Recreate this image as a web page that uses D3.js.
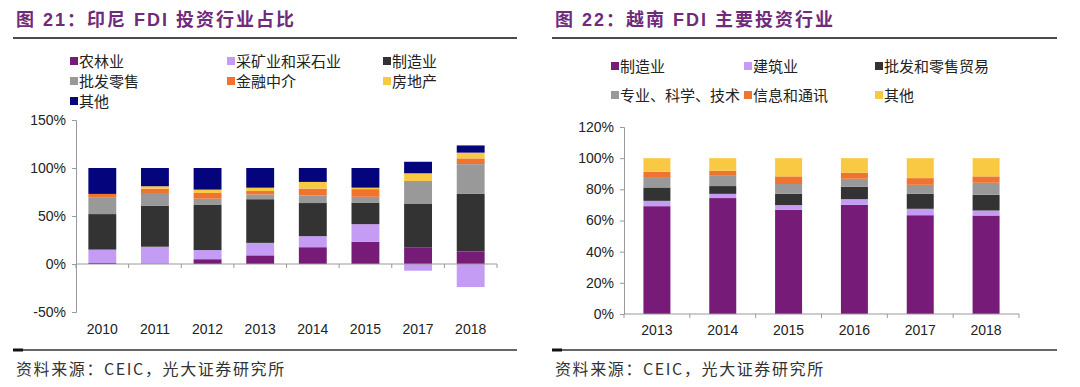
<!doctype html>
<html>
  <head>
    <meta charset="utf-8">
    <title>FDI 投资行业</title>
    <script src="https://cdnjs.cloudflare.com/ajax/libs/d3/7.8.5/d3.min.js"></script>
    <style>
      body { margin: 0; background: #fff; }
      .tick text { font-family: "Liberation Sans", Arial, sans-serif; font-size: 14px; fill: #222; }
      .legend text { font-family: "Noto Sans CJK SC", sans-serif; font-size: 15px; fill: #222; }
    </style>
  </head>
  <body>
    <div id="chart"></div>
    <script>
      // ---- data: 印尼 (left) ----
      const idYears = ['2010', '2011', '2012', '2013', '2014', '2015', '2017', '2018'];
      const idKeys = ['农林业', '采矿业和采石业', '制造业', '批发零售', '金融中介', '房地产', '其他'];
      const idAgri      = [1, 0, 5, 9, 17.5, 23, 17, 13];
      const idMining    = [14, 18, 9.5, 13, 11.5, 18.5, -7, -24];
      const idManuf     = [37, 42.5, 47, 45.5, 34.5, 22.5, 46, 60];
      const idWholesale = [17, 12.5, 6.5, 5, 8, 6, 22.5, 31];
      const idFinance   = [4, 5.5, 6, 3.5, 7, 8, 1, 6];
      const idRealty    = [0, 2.5, 3.5, 3.5, 7, 1.5, 8, 6];
      const idOther     = [27, 19, 22.5, 20.5, 14.5, 20.5, 12, 7.5];
      const idTicks = [-50, 0, 50, 100, 150];

      // ---- data: 越南 (right) ----
      const vnYears = ['2013', '2014', '2015', '2016', '2017', '2018'];
      const vnKeys = ['制造业', '建筑业', '批发和零售贸易', '专业、科学、技术', '信息和通讯', '其他'];
      const vnManuf     = [69.2, 74.4, 66.9, 70.1, 63.4, 63.2];
      const vnBuild     = [3.4, 2.7, 3.0, 3.6, 4.1, 3.2];
      const vnWholesale = [8.6, 5.0, 7.2, 7.9, 9.6, 10.1];
      const vnProf      = [6.7, 7.0, 6.3, 5.2, 5.8, 7.7];
      const vnInfo      = [3.4, 2.8, 4.9, 3.8, 4.3, 4.1];
      const vnOther     = [8.7, 8.1, 11.7, 9.4, 12.8, 11.7];
      const vnTicks = [0, 20, 40, 60, 80, 100, 120];

      const idColors = ['#761c78', '#c59cf3', '#333333', '#999999', '#ef7430', '#fac943', '#04047c'];
      const vnColors = ['#761c78', '#c59cf3', '#333333', '#999999', '#ef7430', '#fac943'];

      const svg = d3.select('#chart').append('svg')
        .attr('width', 1080).attr('height', 387);

      const idRows = idYears.map((y, i) => ({
        year: y, '农林业': idAgri[i], '采矿业和采石业': idMining[i], '制造业': idManuf[i],
        '批发零售': idWholesale[i], '金融中介': idFinance[i], '房地产': idRealty[i], '其他': idOther[i]
      }));
      const vnRows = vnYears.map((y, i) => ({
        year: y, '制造业': vnManuf[i], '建筑业': vnBuild[i], '批发和零售贸易': vnWholesale[i],
        '专业、科学、技术': vnProf[i], '信息和通讯': vnInfo[i], '其他': vnOther[i]
      }));

      function panel(opt) {
        const g = svg.append('g');

        // title + rules
        g.append('text')
          .attr('x', opt.left + 3).attr('y', 26)
          .style('font-family', '"Liberation Sans", "Noto Sans CJK SC", sans-serif')
          .style('font-weight', 'bold').style('font-size', '18px')
          .style('letter-spacing', '2px')
          .style('fill', '#702a7c')
          .text(opt.title);
        g.append('line').attr('x1', opt.left).attr('x2', opt.right)
          .attr('y1', 38).attr('y2', 38).attr('stroke', '#111').attr('stroke-width', 1.5);
        g.append('line').attr('x1', opt.left).attr('x2', opt.right)
          .attr('y1', 350).attr('y2', 350).attr('stroke', '#333').attr('stroke-width', 1.5);
        g.append('line').attr('x1', opt.left).attr('x2', opt.left + 10)
          .attr('y1', 350).attr('y2', 350).attr('stroke', '#111').attr('stroke-width', 3);
        g.append('text')
          .attr('x', opt.left + 3).attr('y', 375)
          .style('font-family', '"Noto Sans CJK SC", sans-serif')
          .style('font-size', '16px').style('letter-spacing', '1.6px').style('fill', '#333')
          .text('资料来源：CEIC，光大证券研究所');

        // legend
        const lg = g.append('g').attr('class', 'legend');
        opt.keys.forEach((k, i) => {
          const lx = opt.legX[i % 3], ly = opt.legY[Math.floor(i / 3)];
          lg.append('rect').attr('x', lx).attr('y', ly - 4).attr('width', 8).attr('height', 8)
            .attr('fill', opt.colors[i]);
          lg.append('text').attr('x', lx + 9).attr('y', ly + 5.5).text(k);
        });

        // scales
        const x = d3.scaleBand().domain(opt.years).range([opt.x0, opt.x1]).paddingInner(opt.pad).paddingOuter(opt.pad / 2);
        const y = d3.scaleLinear().domain(d3.extent(opt.ticks)).range([opt.yBottom, opt.yTop]);

        const series = d3.stack().keys(opt.keys).offset(d3.stackOffsetDiverging)(opt.rows);

        g.selectAll('g.series').data(series).join('g')
          .attr('fill', (d, i) => opt.colors[i])
          .selectAll('rect').data(d => d).join('rect')
          .attr('x', d => x(d.data.year))
          .attr('width', x.bandwidth())
          .attr('y', d => y(Math.max(d[0], d[1])))
          .attr('height', d => Math.abs(y(d[0]) - y(d[1])));

        // y axis
        const yAxis = g.append('g').attr('transform', `translate(${opt.x0},0)`)
          .call(d3.axisLeft(y).tickValues(opt.ticks).tickSize(4).tickPadding(6).tickFormat(d => d + '%'));
        yAxis.select('.domain').attr('stroke', '#999');
        yAxis.selectAll('.tick line').attr('stroke', '#999');

        // x axis at zero, ticks at category boundaries
        const y0 = y(0);
        g.append('line').attr('x1', opt.x0).attr('x2', opt.x1).attr('y1', y0).attr('y2', y0)
          .attr('stroke', '#999');
        const step = x.step();
        g.selectAll('line.xt').data(d3.range(opt.years.length + 1)).join('line')
          .attr('x1', i => opt.x0 + i * step).attr('x2', i => opt.x0 + i * step)
          .attr('y1', y0).attr('y2', y0 + 4).attr('stroke', '#999');
        g.selectAll('text.xl').data(opt.years).join('text')
          .attr('class', 'tick')
          .attr('x', d => x(d) + x.bandwidth() / 2).attr('y', opt.labelY)
          .attr('text-anchor', 'middle')
          .style('font-family', '"Liberation Sans", Arial, sans-serif')
          .style('font-size', '14px').style('fill', '#222')
          .text(d => d);
      }

      panel({
        title: '图 21：印尼 FDI 投资行业占比',
        left: 13, right: 517,
        keys: idKeys, colors: idColors, rows: idRows, years: idYears, ticks: idTicks,
        legX: [70, 227, 383], legY: [61, 81, 101],
        x0: 76, x1: 497, yTop: 120, yBottom: 312, pad: 0.47, labelY: 334
      });

      panel({
        title: '图 22：越南 FDI 主要投资行业',
        left: 552, right: 1057,
        keys: vnKeys, colors: vnColors, rows: vnRows, years: vnYears, ticks: vnTicks,
        legX: [611, 744, 875], legY: [66, 95],
        x0: 624, x1: 1019, yTop: 127, yBottom: 314, pad: 0.59, labelY: 335
      });
    </script>
  </body>
</html>
